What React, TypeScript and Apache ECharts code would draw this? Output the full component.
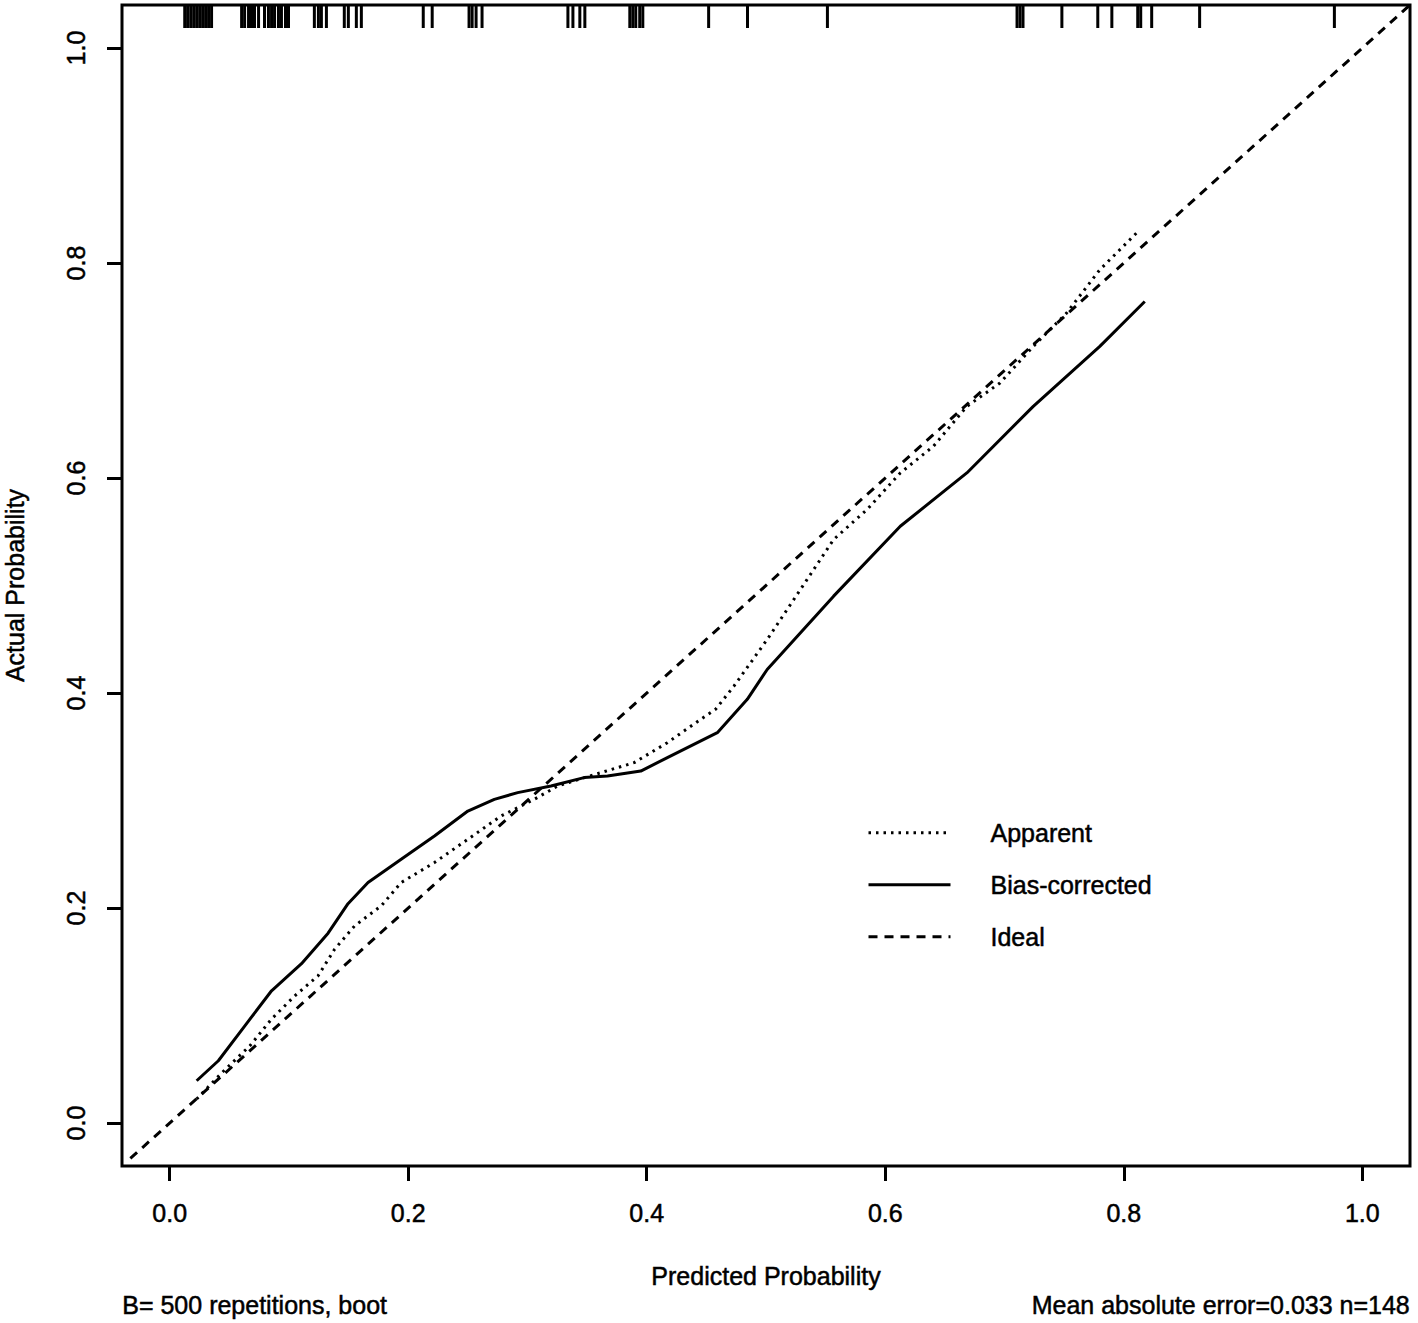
import React, { useEffect, useRef } from "react";
import * as echarts from "echarts";

const FONT = "'Liberation Sans', Arial, Helvetica, sans-serif";

const tickValues = [0, 0.2, 0.4, 0.6, 0.8, 1.0];
const axisMin = -0.04;
const axisMax = 1.04;

const apparentX = [0.0226, 0.0435, 0.0672, 0.0854, 0.1049, 0.1244, 0.1383, 0.1551, 0.1774, 0.1941, 0.222, 0.25, 0.2778, 0.3057, 0.3253, 0.3615, 0.3894, 0.4173, 0.4452, 0.4577, 0.4731, 0.501, 0.5289, 0.5567, 0.5847, 0.6126, 0.6404, 0.6684, 0.6962, 0.7241, 0.752, 0.7799, 0.8134];
const apparentY = [0.0223, 0.0465, 0.0718, 0.0967, 0.1183, 0.1369, 0.1617, 0.1834, 0.202, 0.2237, 0.2423, 0.2639, 0.2856, 0.3011, 0.3135, 0.3259, 0.3352, 0.3538, 0.3755, 0.3848, 0.4064, 0.4498, 0.4963, 0.5428, 0.5706, 0.6047, 0.6295, 0.6666, 0.6884, 0.7224, 0.7534, 0.7937, 0.8309];

const biasX = [0.0226, 0.0408, 0.063, 0.0854, 0.1105, 0.1328, 0.1495, 0.1663, 0.1941, 0.222, 0.25, 0.2722, 0.2918, 0.3197, 0.3475, 0.3671, 0.395, 0.4173, 0.4592, 0.4843, 0.501, 0.5567, 0.6126, 0.6684, 0.7241, 0.7799, 0.8176];
const biasY = [0.0393, 0.0579, 0.0904, 0.123, 0.1482, 0.1766, 0.204, 0.2237, 0.2454, 0.267, 0.2902, 0.3011, 0.3073, 0.3135, 0.3213, 0.3228, 0.3274, 0.3399, 0.3631, 0.3941, 0.4219, 0.4901, 0.5551, 0.6047, 0.6666, 0.7224, 0.7642];

const idealX = [-0.033, 1.04];
const idealY = [-0.033, 1.04];

const rugValues = [
  0.0126, 0.015, 0.0176, 0.0201, 0.0226, 0.0251, 0.0276, 0.0301, 0.0326, 0.0351,
  0.0603, 0.0628, 0.0661, 0.0686, 0.0711, 0.0745, 0.0795, 0.0828, 0.0854,
  0.0879, 0.0912, 0.0937, 0.0971, 0.0996,
  0.1213, 0.1247, 0.1272, 0.1314, 0.1464, 0.1498, 0.1565, 0.1607,
  0.2126, 0.2201, 0.251, 0.2536, 0.2569, 0.2619,
  0.3339, 0.3381, 0.3439, 0.3481,
  0.3858, 0.3883, 0.3908, 0.3941, 0.3967,
  0.4519, 0.4845, 0.5515,
  0.7105, 0.713, 0.7155, 0.7481, 0.7782, 0.79, 0.8117, 0.8142, 0.8234, 0.8636, 0.9766,
];
const rugLength = 0.0214;

const xTitle = "Predicted Probability";
const yTitle = "Actual Probability";
const footLeft = "B= 500 repetitions, boot";
const footRight = "Mean absolute error=0.033 n=148";

const zip = (xs: number[], ys: number[]) => xs.map((x, i) => [x, ys[i]]);

export default function App() {
  const ref = useRef<HTMLDivElement>(null);
  useEffect(() => {
    if (!ref.current) return;
    const chart = echarts.init(ref.current, undefined, { renderer: "svg" });
    const textBase = {
      fontFamily: FONT,
      fontSize: 25,
      color: "#000",
      textBorderColor: "#000",
      textBorderWidth: 0.5,
    };
    chart.setOption({
      animation: false,
      backgroundColor: "#fff",
      grid: {
        left: 122,
        right: 8,
        top: 5,
        bottom: 157,
        show: true,
        borderColor: "#000",
        borderWidth: 3,
        backgroundColor: "transparent",
        containLabel: false,
        outerBoundsMode: "none",
      },
      xAxis: {
        type: "value",
        min: axisMin,
        max: axisMax,
        axisLine: { show: false, onZero: false },
        splitLine: { show: false },
        axisTick: {
          show: true,
          inside: false,
          length: 15,
          customValues: tickValues,
          lineStyle: { color: "#000", width: 3 },
        },
        axisLabel: {
          ...textBase,
          customValues: tickValues,
          formatter: (v: number) => v.toFixed(1),
          margin: 47,
          verticalAlign: "middle",
          align: "center",
        },
        name: xTitle,
        nameLocation: "middle",
        nameGap: 110,
        nameTextStyle: { ...textBase, verticalAlign: "middle", align: "center" },
      },
      yAxis: {
        type: "value",
        min: axisMin,
        max: axisMax,
        axisLine: { show: false, onZero: false },
        splitLine: { show: false },
        axisTick: {
          show: true,
          inside: false,
          length: 15,
          customValues: tickValues,
          lineStyle: { color: "#000", width: 3 },
        },
        axisLabel: {
          ...textBase,
          customValues: tickValues,
          formatter: (v: number) => v.toFixed(1),
          rotate: 90,
          margin: 46,
          verticalAlign: "middle",
          align: "center",
        },
        name: yTitle,
        nameLocation: "middle",
        nameGap: 107,
        nameRotate: 90,
        nameTextStyle: { ...textBase, verticalAlign: "middle", align: "center" },
      },
      legend: {
        data: ["Apparent", "Bias-corrected", "Ideal"],
        orient: "vertical",
        left: 862,
        top: 815,
        itemWidth: 82,
        itemHeight: 3,
        itemGap: 26.5,
        selectedMode: false,
        itemStyle: { opacity: 0 },
        lineStyle: { width: 3 },
        textStyle: { ...textBase, lineHeight: 25, padding: [0, 0, 0, 35] },
      },
      graphic: [
        {
          type: "text",
          left: 122,
          top: 1292,
          style: {
            text: footLeft,
            font: `25px ${FONT}`,
            fill: "#000",
            stroke: "#000",
            lineWidth: 0.5,
          },
        },
        {
          type: "text",
          right: 8,
          top: 1292,
          style: {
            text: footRight,
            font: `25px ${FONT}`,
            fill: "#000",
            stroke: "#000",
            lineWidth: 0.5,
          },
        },
      ],
      series: [
        {
          name: "Ideal",
          type: "line",
          data: zip(idealX, idealY),
          symbol: "none",
          itemStyle: { color: "#000" },
          lineStyle: { color: "#000", width: 3, type: [9, 7] },
          z: 2,
        },
        {
          name: "Apparent",
          type: "line",
          data: zip(apparentX, apparentY),
          symbol: "none",
          itemStyle: { color: "#000" },
          lineStyle: { color: "#000", width: 3, type: [2.5, 5] },
          z: 3,
        },
        {
          name: "Bias-corrected",
          type: "line",
          data: zip(biasX, biasY),
          symbol: "none",
          itemStyle: { color: "#000" },
          lineStyle: { color: "#000", width: 3, type: "solid" },
          z: 4,
        },
        {
          name: "rug",
          type: "custom",
          data: rugValues.map((v) => [v, axisMax]),
          renderItem: (params: any, api: any) => {
            const x = api.value(0);
            const p1 = api.coord([x, axisMax]);
            const p2 = api.coord([x, axisMax - rugLength]);
            return {
              type: "line",
              shape: { x1: p1[0], y1: p1[1], x2: p2[0], y2: p2[1] },
              style: { stroke: "#000", lineWidth: 3 },
            };
          },
          z: 5,
        },
      ],
    });
    return () => chart.dispose();
  }, []);
  return (
    <div
      ref={ref}
      style={{ position: "absolute", left: 0, top: 0, width: 1418, height: 1323, background: "#fff" }}
    />
  );
}
